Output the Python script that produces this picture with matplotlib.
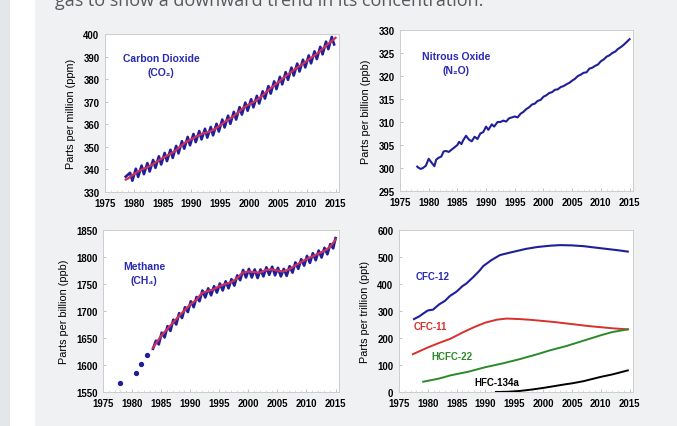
import matplotlib
matplotlib.use("Agg")
import matplotlib.pyplot as plt
from matplotlib.patches import Rectangle
from matplotlib.ticker import MultipleLocator

# ---------------- data ----------------
x_ticks = [1975, 1980, 1985, 1990, 1995, 2000, 2005, 2010, 2015]

# CO2 (ppm): trend (red) and seasonal peaks/troughs (blue)
co2_trend_years = [1978.6] + list(range(1979, 2016))
co2_trend = [335.5, 336.0, 337.9, 339.5, 340.6, 341.8, 343.5, 345.0, 346.4, 347.9, 350.0,
             352.1, 353.4, 354.8, 356.0, 356.6, 357.8, 359.6, 361.5, 363.0, 365.0,
             367.3, 368.8, 370.2, 372.0, 374.4, 376.5, 378.5, 380.6, 382.6, 384.5,
             386.2, 388.0, 389.9, 391.7, 394.0, 396.2, 398.3]
co2_cycle_years = list(range(1979, 2015))
co2_peak = [338.5, 340.3, 341.7, 342.8, 344.2, 345.8, 347.3, 348.7, 350.4, 352.5,
            354.4, 355.7, 357.0, 358.0, 358.8, 360.2, 362.1, 363.8, 365.5, 367.6,
            369.6, 371.1, 372.6, 374.6, 376.9, 379.0, 381.0, 383.1, 385.1, 386.9,
            388.6, 390.5, 392.3, 394.3, 396.6, 398.7]
co2_trough = [335.0, 336.7, 337.9, 339.1, 340.7, 342.2, 343.7, 345.1, 347.1, 349.2,
              350.7, 352.1, 353.3, 354.1, 355.1, 356.8, 358.6, 360.2, 362.1, 364.3,
              366.0, 367.5, 369.2, 371.4, 373.6, 375.6, 377.7, 379.7, 381.6, 383.4,
              385.2, 387.0, 388.9, 391.0, 393.3, 395.4]
co2_start = (1978.6, 336.8)

# N2O (ppb)
n2o_years = [1978.0, 1978.3, 1978.6, 1979.0, 1979.5, 1980.0, 1980.3, 1980.6, 1981.0, 1981.3,
             1981.7, 1982.2, 1982.6, 1983.0, 1983.5, 1984.0, 1984.5, 1985.0, 1985.3, 1985.7,
             1986.0, 1986.5, 1987.0, 1987.5, 1988.0, 1988.5, 1989.0, 1989.5, 1990.0, 1990.4,
             1991.0, 1991.4, 1992.0, 1992.5, 1993.0, 1993.5, 1994.0, 1994.5, 1995.0, 1995.5,
             1996.0, 1996.5, 1997.0, 1997.5, 1998.0, 1998.5, 1999.0, 1999.5, 2000.0, 2000.5,
             2001.0, 2001.5, 2002.0, 2002.5, 2003.0, 2003.5, 2004.0, 2004.5, 2005.0, 2005.5,
             2006.0, 2006.5, 2007.0, 2007.5, 2008.0, 2008.5, 2009.0, 2009.5, 2010.0, 2010.5,
             2011.0, 2011.5, 2012.0, 2012.5, 2013.0, 2013.5, 2014.0, 2014.5, 2015.0]
n2o = [300.3, 300.0, 299.8, 300.0, 300.5, 302.0, 301.5, 301.0, 300.4, 301.8,
       302.2, 302.5, 303.6, 303.7, 303.5, 304.0, 304.5, 305.0, 305.7, 305.2,
       306.0, 307.0, 306.2, 305.8, 306.8, 306.3, 307.5, 307.8, 309.0, 308.3,
       309.5, 309.0, 310.0, 310.0, 310.3, 310.1, 310.8, 311.0, 311.2, 311.0,
       311.8, 312.2, 312.8, 313.2, 313.8, 314.0, 314.6, 314.8, 315.5, 315.8,
       316.3, 316.5, 317.0, 317.1, 317.6, 317.8, 318.2, 318.5, 319.0, 319.4,
       320.0, 320.3, 320.7, 320.8, 321.6, 321.8, 322.2, 322.5, 323.2, 323.6,
       324.2, 324.5, 325.0, 325.3, 325.9, 326.3, 326.8, 327.4, 328.0]

# CH4 (ppb): early annual dots, trend (red) and seasonal peaks/troughs (blue)
ch4_dot_years = [1978.0, 1980.7, 1981.6, 1982.6]
ch4_dots = [1567, 1585, 1601, 1619]
ch4_trend_years = [1983.6] + list(range(1984, 2016))
ch4_trend = [1632, 1638, 1654, 1666, 1678, 1690, 1701, 1712, 1720, 1733, 1737,
             1740, 1746, 1750, 1753, 1760, 1771, 1773, 1772, 1771, 1776,
             1777, 1775, 1773, 1777, 1784, 1790, 1796, 1801, 1806, 1811,
             1818, 1832]
ch4_cycle_years = list(range(1984, 2015))
ch4_peak = [1645, 1660, 1672, 1684, 1696, 1707, 1718, 1726, 1738, 1742,
            1746, 1751, 1755, 1759, 1766, 1776, 1778, 1777, 1777, 1781,
            1782, 1780, 1778, 1783, 1790, 1796, 1802, 1807, 1812, 1817, 1824]
ch4_trough = [1638, 1651, 1663, 1675, 1687, 1698, 1707, 1718, 1725, 1729,
              1734, 1738, 1742, 1747, 1757, 1762, 1762, 1761, 1764, 1767,
              1766, 1764, 1765, 1771, 1778, 1784, 1789, 1794, 1799, 1805, 1816]
ch4_start = (1983.6, 1630)
ch4_end = (2015.0, 1835)

# Halocarbons (ppt)
cfc12_years = [1977.6, 1978.5, 1979.3, 1980.0, 1980.9, 1982.0, 1983.0, 1983.8, 1985.0,
               1986.0, 1986.7, 1988.0, 1989.0, 1989.6, 1991.0, 1992.5, 1994.0, 1995.4,
               1997.0, 1999.0, 2001.3, 2003.0, 2005.0, 2007.1, 2009.0, 2011.0, 2013.0, 2014.7]
cfc12 = [270, 280, 292, 302, 305, 325, 338, 355, 372,
         392, 402, 428, 450, 466, 488, 507, 515, 522,
         530, 537, 542, 544, 543, 540, 535, 530, 525, 520]
cfc11_years = [1977.4, 1980.0, 1982.0, 1984.0, 1986.0, 1988.0, 1990.0, 1992.0, 1993.7,
               1996.0, 1998.0, 2000.0, 2002.0, 2004.0, 2006.0, 2008.0, 2010.0, 2012.0, 2014.7]
cfc11 = [140, 165, 182, 198, 220, 240, 257, 268, 272,
         270, 267, 263, 259, 254, 249, 244, 240, 236, 232]
hcfc22_years = [1979.2, 1982.0, 1984.0, 1987.0, 1990.0, 1993.0, 1996.0, 1999.0, 2001.3,
                2004.0, 2007.0, 2010.0, 2012.0, 2014.7]
hcfc22 = [38, 50, 62, 75, 92, 106, 122, 140, 155, 170, 190, 210, 222, 232]
hfc134a_years = [1991.8, 1994.0, 1996.0, 1998.0, 2000.0, 2002.0, 2004.0, 2005.0,
                 2007.0, 2010.0, 2012.0, 2014.7]
hfc134a = [0, 1, 4, 9, 15, 22, 29, 32, 40, 56, 65, 80]

# ---------------- styling ----------------
W, H = 677, 427
BLUE = "#1f1f9a"
RED = "#d0305a"
TITLE_BLUE = "#2a2ab0"
TICK_FS = 6.9
LAB_FS = 7.8
FONT = "Liberation Sans"

fig = plt.figure(figsize=(W / 100, H / 100), dpi=100)
fig.patch.set_facecolor("#f0f1f3")


def fx(x):
    return x / W


def fy(y):
    return 1 - y / H


fig.patches.append(Rectangle((0, 0), fx(10), 1, transform=fig.transFigure,
                             facecolor="#e4e7ea", edgecolor="none", zorder=-10))
fig.patches.append(Rectangle((fx(10), 0), fx(25), 1, transform=fig.transFigure,
                             facecolor="white", edgecolor="none", zorder=-10))
fig.text(fx(55), fy(6), "gas to show a downward trend in its concentration.",
         family="Open Sans", fontsize=13, color="#555a5f", va="baseline", ha="left")


def make_ax(l, r, t, b, ylim, ystep, ylabel, xlim=(1975, 2015.6)):
    ax = fig.add_axes([fx(l), fy(b), fx(r - l), (b - t) / H])
    ax.set_facecolor("white")
    ax.set_xlim(*xlim)
    ax.set_ylim(*ylim)
    ax.set_xticks(x_ticks)
    ax.yaxis.set_major_locator(MultipleLocator(ystep))
    ax.xaxis.set_minor_locator(MultipleLocator(1))
    for s in ax.spines.values():
        s.set_color("#cdcdcd")
        s.set_linewidth(0.7)
    ax.tick_params(which="major", length=2.5, width=0.6, color="#b8b8b8",
                   direction="in", labelsize=TICK_FS, pad=4)
    ax.tick_params(which="minor", length=1.5, width=0.5, color="#cdcdcd",
                   direction="in")
    for lab in ax.get_xticklabels() + ax.get_yticklabels():
        lab.set_fontfamily(FONT)
        lab.set_fontweight("bold")
    ax.set_ylabel(ylabel, fontsize=LAB_FS, family=FONT, labelpad=5)
    return ax


def title(x, y, s1, s2, color=TITLE_BLUE):
    fam = [FONT, "DejaVu Sans"]
    fig.text(fx(x), fy(y), s1, ha="center", va="center", fontsize=7.5,
             fontweight="bold", color=color, family=fam)
    fig.text(fx(x), fy(y + 14), s2, ha="center", va="center", fontsize=7.5,
             fontweight="bold", color=color, family=fam)


# CO2
ax1 = make_ax(105, 339, 35, 193, (330, 400), 10, "Parts per million (ppm)")
bx, by = [co2_start[0]], [co2_start[1]]
for yr, p, t in zip(co2_cycle_years, co2_peak, co2_trough):
    bx += [yr + 0.35, yr + 0.75]
    by += [p, t]
ax1.plot(bx, by, color=BLUE, lw=1.9)
ax1.plot(co2_trend_years, co2_trend, color=RED, lw=1.6)
title(161, 59, "Carbon Dioxide", "(CO\u2082)")

# N2O
ax2 = make_ax(400, 633, 31, 192, (295, 330), 5, "Parts per billion (ppb)")
ax2.plot(n2o_years, n2o, color=BLUE, lw=1.5)
title(456, 57, "Nitrous Oxide", "(N\u2082O)")

# CH4
ax3 = make_ax(103, 339, 231, 393, (1550, 1850), 50, "Parts per billion (ppb)")
ax3.plot(ch4_dot_years, ch4_dots, "o", color=BLUE, ms=2.8)
cx, cy = [ch4_start[0]], [ch4_start[1]]
for yr, p, t in zip(ch4_cycle_years, ch4_peak, ch4_trough):
    cx += [yr + 0.1, yr + 0.6]
    cy += [p, t]
cx.append(ch4_end[0])
cy.append(ch4_end[1])
ax3.plot(cx, cy, color=BLUE, lw=1.9)
ax3.plot(ch4_trend_years, ch4_trend, color=RED, lw=1.6)
title(144, 267, "Methane", "(CH\u2084)")

# Halocarbons
ax4 = make_ax(399, 633, 231, 393, (0, 600), 100, "Parts per trillion (ppt)")
ax4.plot(cfc12_years, cfc12, color=BLUE, lw=1.5)
ax4.plot(cfc11_years, cfc11, color="#d8302c", lw=1.4)
ax4.plot(hcfc22_years, hcfc22, color="#2a8a2a", lw=1.4)
ax4.plot(hfc134a_years, hfc134a, color="black", lw=1.4)
for x, y, s, c in [(433, 277, "CFC-12", TITLE_BLUE), (430, 327, "CFC-11", "#d8302c"),
                   (452, 357, "HCFC-22", "#2a8a2a"), (497, 383, "HFC-134a", "black")]:
    fig.text(fx(x), fy(y), s, ha="center", va="center", fontsize=7,
             fontweight="bold", color=c, family=FONT)

fig.savefig("out.png", dpi=100, facecolor=fig.get_facecolor())
